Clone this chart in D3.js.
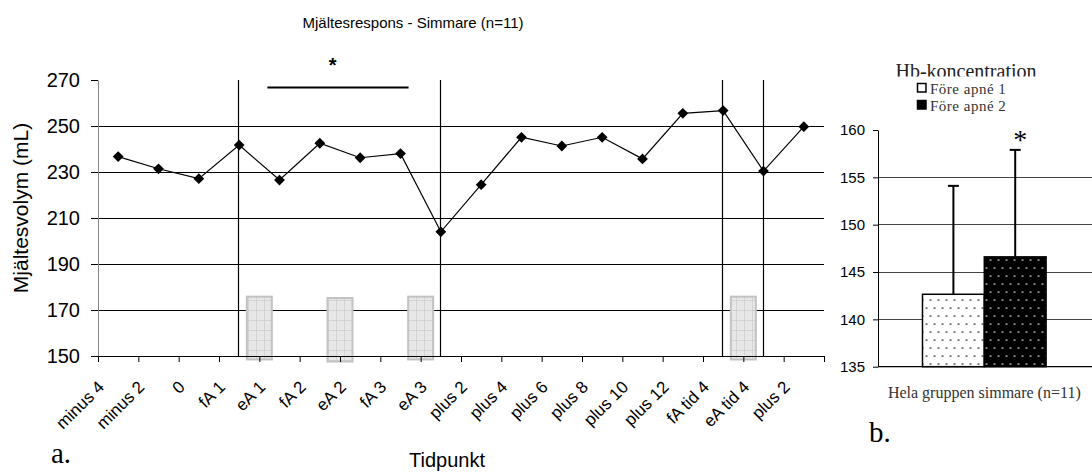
<!DOCTYPE html>
<html><head><meta charset="utf-8">
<script src="https://cdn.jsdelivr.net/npm/d3@7"></script>
<style>
body{margin:0;background:#fff;}
svg{display:block;}
.sans{font-family:"Liberation Sans",Arial,sans-serif;}
.serif{font-family:"Liberation Serif","Times New Roman",serif;}
</style></head><body>
<svg id="chart" width="1092" height="473"></svg>
<script>
// ---------- data: chart a ----------
const categories = ["minus 4","minus 2","0","fA 1","eA 1","fA 2","eA 2","fA 3","eA 3","plus 2","plus 4","plus 6","plus 8","plus 10","plus 12","fA tid 4","eA tid 4","plus 2"];
const spleenVolume = [236.7,231.4,227.1,241.7,226.5,242.5,236.2,238.0,204.0,224.5,245.1,241.3,245.1,235.7,255.5,256.7,230.4,249.7];
const yTicksA = [150,170,190,210,230,250,270];
const gridA = [170,190,210,230,250];
const eventLines = [3,8,15,16];          // category indices with vertical lines
const apneaAfter = [3,5,7,15];           // apnea block sits between category i and i+1
const apneaTop = [175.8,175.2,175.8,175.8];
const apneaBottom = [148.5,147.6,148.5,148.5];
const sigSpan = [4.2,7.7];               // in category units
const sigLevel = [266.7];
const starLevel = [5.82];

// ---------- data: chart b ----------
const groupB = ["Hela gruppen simmare (n=11)"];
const seriesB = ["Före apné 1","Före apné 2"];
const hbMean = [142.65,146.6];
const hbUpper = [154.1,157.9];
const yTicksB = [135,140,145,150,155,160];
const gridB = [140,145,150,155];

const svg = d3.select("#chart");
const defs = svg.append("defs");

// patterns
const pa = defs.append("pattern").attr("id","apnea").attr("patternUnits","userSpaceOnUse")
  .attr("width",8).attr("height",10);
pa.append("rect").attr("width",8).attr("height",10).attr("fill","#e8e8e8");
pa.append("path").attr("d","M0,0.5H8M0.5,0V10").attr("stroke","#cdcdcd").attr("stroke-width",0.8);
pa.append("path").attr("d","M0,5H8M4,0V10").attr("stroke","#dcdcdc").attr("stroke-width",0.6).attr("stroke-dasharray","1,1");

function dots(id,bg,fg){
  const p = defs.append("pattern").attr("id",id).attr("patternUnits","userSpaceOnUse")
    .attr("width",16).attr("height",16);
  p.append("rect").attr("width",16).attr("height",16).attr("fill",bg);
  [[4,4],[12,4],[0,12],[8,12],[16,12]].forEach(d=>p.append("circle").attr("cx",d[0]).attr("cy",d[1]).attr("r",0.85).attr("fill",fg));
}
dots("dotsW","#fff","#000");
dots("dotsB","#000","#fff");

// ================= chart a =================
const A = {l:98, r:824, t:80, b:356};
const x = d3.scaleBand().domain(d3.range(categories.length)).range([A.l,A.r]).padding(0);
const xi = d3.scaleLinear().domain([0,categories.length]).range([A.l,A.r]);
const y = d3.scaleLinear().domain([150,270]).range([A.b,A.t]);
const cx = i => x(i) + x.bandwidth()/2;

svg.append("text").attr("class","sans").attr("x",413).attr("y",28)
  .attr("text-anchor","middle").attr("font-size",15).attr("fill","#000")
  .text("Mjältesrespons - Simmare (n=11)");

// gridlines
svg.append("g").selectAll("line").data(gridA).join("line")
  .attr("x1",A.l).attr("x2",A.r).attr("y1",d=>y(d)).attr("y2",d=>y(d))
  .attr("stroke","#000").attr("stroke-width",1).attr("shape-rendering","crispEdges");

// vertical event lines
svg.append("g").selectAll("line").data(eventLines).join("line")
  .attr("x1",d=>Math.round(cx(d))-0.5).attr("x2",d=>Math.round(cx(d))-0.5)
  .attr("y1",y(270)).attr("y2",y(150))
  .attr("stroke","#000").attr("stroke-width",1.2);

// apnea blocks
const bw = x.bandwidth()*0.62;
svg.append("g").selectAll("rect").data(apneaAfter).join("rect")
  .attr("x",d=>xi(d+1)-bw/2).attr("width",bw)
  .attr("y",(d,i)=>y(apneaTop[i])).attr("height",(d,i)=>y(apneaBottom[i])-y(apneaTop[i]))
  .attr("fill","url(#apnea)").attr("stroke","#c2c2c2").attr("stroke-width",2);

// y axis
const gy = svg.append("g").attr("class","sans").attr("transform",`translate(${A.l},0)`)
  .call(d3.axisLeft(y).tickValues(yTicksA).tickSize(7).tickPadding(11).tickSizeOuter(0));
gy.select(".domain").attr("stroke","#888");
gy.selectAll(".tick line").attr("stroke","#000");
gy.selectAll("text").attr("font-size",20).attr("fill","#000").attr("font-family","Liberation Sans, Arial, sans-serif");

// x axis boundary ticks
const gxt = svg.append("g").attr("transform",`translate(0,${A.b})`)
  .call(d3.axisBottom(xi).tickValues(d3.range(categories.length+1)).tickSize(6).tickSizeOuter(6).tickFormat(""));
gxt.selectAll("path,line").attr("stroke","#000");

// x labels
const gx = svg.append("g").attr("transform",`translate(0,${A.b})`)
  .call(d3.axisBottom(x).tickSize(0).tickFormat(i=>categories[i]));
gx.select(".domain").remove();
gx.selectAll("text").attr("x",0).attr("y",0).attr("dy",0)
  .attr("text-anchor","end").attr("transform","translate(-13,32) rotate(-45)")
  .attr("font-size",17).attr("fill","#000").attr("font-family","Liberation Sans, Arial, sans-serif");

// axis titles
svg.append("text").attr("class","sans").attr("transform","translate(28,208) rotate(-90)")
  .attr("text-anchor","middle").attr("font-size",21).text("Mjältesvolym (mL)");
svg.append("text").attr("class","sans").attr("x",447).attr("y",467)
  .attr("text-anchor","middle").attr("font-size",20).text("Tidpunkt");
svg.append("text").attr("class","serif").attr("x",51).attr("y",463).attr("font-size",29).text("a.");

// significance bar and star
svg.append("line").attr("x1",xi(sigSpan[0])).attr("x2",xi(sigSpan[1]))
  .attr("y1",y(sigLevel[0])).attr("y2",y(sigLevel[0])).attr("stroke","#000").attr("stroke-width",2);
svg.append("text").attr("class","sans").attr("x",xi(starLevel[0])).attr("y",72)
  .attr("text-anchor","middle").attr("font-size",20).attr("font-weight","bold").text("*");

// series line and markers
const line = d3.line().x((d,i)=>cx(i)).y(d=>y(d));
svg.append("path").datum(spleenVolume).attr("d",line).attr("fill","none").attr("stroke","#000").attr("stroke-width",1.2);
svg.append("g").selectAll("path").data(spleenVolume).join("path")
  .attr("d",d3.symbol(d3.symbolSquare,58))
  .attr("transform",(d,i)=>`translate(${cx(i)},${y(d)}) rotate(45)`)
  .attr("fill","#000");

// ================= chart b =================
const B = {l:878, r:1092, t:130, b:366.7};
const yB = d3.scaleLinear().domain([135,160]).range([B.b,B.t]);
const x0 = d3.scaleBand().domain(groupB).range([B.l,1090.6]).paddingInner(0).paddingOuter(0.36);
const x1 = d3.scaleBand().domain(seriesB).range([0,x0.bandwidth()]);

svg.append("g").selectAll("line").data(gridB).join("line")
  .attr("x1",B.l).attr("x2",B.r).attr("y1",d=>yB(d)).attr("y2",d=>yB(d))
  .attr("stroke","#444").attr("stroke-width",1).attr("shape-rendering","crispEdges");

const fills = ["url(#dotsW)","url(#dotsB)"];
const gb = svg.append("g").attr("transform",`translate(${x0(groupB[0])},0)`);
gb.selectAll("rect").data(hbMean).join("rect")
  .attr("x",(d,i)=>x1(seriesB[i])).attr("width",x1.bandwidth())
  .attr("y",d=>yB(d)).attr("height",d=>yB(135)-yB(d))
  .attr("fill",(d,i)=>fills[i]).attr("stroke","#000").attr("stroke-width",1.5);
// error bars
gb.selectAll("line.err").data(hbMean).join("line").attr("class","err")
  .attr("x1",(d,i)=>x1(seriesB[i])+x1.bandwidth()/2).attr("x2",(d,i)=>x1(seriesB[i])+x1.bandwidth()/2)
  .attr("y1",d=>yB(d)).attr("y2",(d,i)=>yB(hbUpper[i]))
  .attr("stroke","#000").attr("stroke-width",2);
gb.selectAll("line.cap").data(hbUpper).join("line").attr("class","cap")
  .attr("x1",(d,i)=>x1(seriesB[i])+x1.bandwidth()/2-5.5).attr("x2",(d,i)=>x1(seriesB[i])+x1.bandwidth()/2+5.5)
  .attr("y1",d=>yB(d)).attr("y2",d=>yB(d))
  .attr("stroke","#000").attr("stroke-width",2);
svg.append("text").attr("class","serif").attr("x",x0(groupB[0])+x1(seriesB[1])+x1.bandwidth()/2+5)
  .attr("y",149).attr("text-anchor","middle").attr("font-size",28).text("*");

// axes b
const gyB = svg.append("g").attr("transform",`translate(${B.l},0)`)
  .call(d3.axisLeft(yB).tickValues(yTicksB).tickSize(5).tickPadding(8).tickSizeOuter(0));
gyB.selectAll("path,line").attr("stroke","#000");
gyB.selectAll("text").attr("font-size",15).attr("fill","#000").attr("font-family","Liberation Sans, Arial, sans-serif");
svg.append("line").attr("x1",B.l).attr("x2",B.r).attr("y1",B.b).attr("y2",B.b)
  .attr("stroke","#000").attr("stroke-width",1.2);

const gxB = svg.append("g").attr("transform",`translate(0,${B.b})`)
  .call(d3.axisBottom(x0).tickSize(0).tickPadding(20));
gxB.select(".domain").remove();
gxB.selectAll("text").attr("dy",0).attr("y",31).attr("font-size",16).attr("fill","#333")
  .attr("font-family","Liberation Serif, Times New Roman, serif");

svg.append("text").attr("class","serif").attr("x",869).attr("y",442).attr("font-size",29).text("b.");

// legend
defs.append("clipPath").attr("id","clipTitle").append("rect").attr("x",850).attr("y",50).attr("width",240).attr("height",26.5);
svg.append("text").attr("class","serif").attr("clip-path","url(#clipTitle)")
  .attr("x",966).attr("y",78).attr("text-anchor","middle").attr("font-size",20).attr("fill","#222")
  .text("Hb-koncentration");
const lg = svg.append("g").selectAll("g").data(seriesB).join("g")
  .attr("transform",(d,i)=>`translate(917,${83+i*17})`);
lg.append("rect").attr("x",0.5).attr("y",0.5).attr("width",8.5).attr("height",8.5)
  .attr("fill",(d,i)=>i===0?"#fff":"#000").attr("stroke","#000").attr("stroke-width",1.5);
lg.append("text").attr("class","serif").attr("x",13).attr("y",10.5).attr("font-size",15)
  .attr("letter-spacing",0.5).attr("fill","#333").text(d=>d);
</script>
</body></html>
